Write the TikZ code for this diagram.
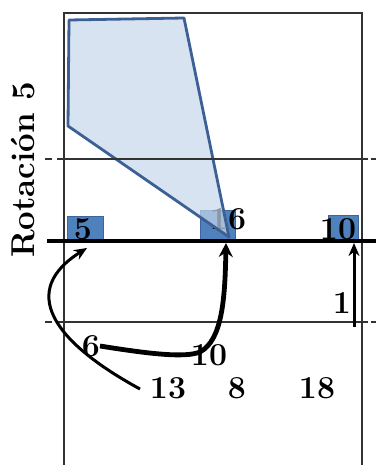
\documentclass[tikz,border=0pt]{standalone}
\usetikzlibrary{arrows.meta}
\definecolor{boxblue}{RGB}{79,129,189}
\definecolor{boxedge}{RGB}{60,100,160}
\definecolor{polyfill}{RGB}{200,215,235}
\definecolor{polyedge}{RGB}{60,95,150}
\definecolor{courtline}{RGB}{50,50,50}
\tikzset{
  pbox/.style={draw=boxedge, line width=1pt, fill=boxblue},
  num/.style={inner sep=0pt, font=\fontsize{32}{32}\selectfont\bfseries},
  cline/.style={draw=courtline, line width=2.6pt},
  netline/.style={draw=black, line width=3.8pt},
  mvthin/.style={draw=black, line width=3pt, -{Stealth[length=13pt,width=11pt]}},
  mvthick/.style={draw=black, line width=4.8pt, -{Stealth[length=14pt,width=14pt]}},
  zone/.style={draw=polyedge, line width=2.8pt, fill=polyfill, fill opacity=0.7, line join=round}
}
\begin{document}
\begin{tikzpicture}[x=1pt,y=-1pt]
\useasboundingbox (0,0) rectangle (376,465);
% player boxes
\path[pbox] (67,216) rectangle (103,241);
\path[pbox] (200,210) rectangle (235,241);
\path[pbox] (328,215) rectangle (358,241);
% labels
\node[num] (p5) at (83,229) {5};
\node[num] (p16) at (228,219) {16};
\node[num] (p10a) at (338,229) {10};
\node[num] (p1) at (342,303) {1};
\node[num] (p6) at (91,346) {6};
\node[num] (p10b) at (209,355) {10};
\node[num] (p13) at (168,388) {13};
\node[num] (p8) at (237,388) {8};
\node[num] (p18) at (317,388) {18};
% zone
\path[zone] (69,20) -- (184,18) -- (229,237) -- (68,126) -- cycle;
% court
\path[cline] (64,465) -- (64,13) -- (362,13) -- (362,465);
\path[cline] (57,159) -- (368,159);
\path[cline] (45,159) -- (52,159);
\path[cline] (371,159) -- (376,159);
\path[cline] (57,322) -- (368,322);
\path[cline] (45,322) -- (52,322);
\path[cline] (371,322) -- (376,322);
\path[netline] (47,241) -- (376,241);
% rotated title
\node[inner sep=0pt, rotate=90, font=\fontsize{33}{33}\selectfont\bfseries] (title) at (23,170) {Rotación 5};
% arrows
\coordinate (a1s) at (140,389);
\coordinate (a1e) at (87,248);
\coordinate (a2s) at (100,346);
\coordinate (a2m) at (200,352);
\coordinate (a2e) at (226,243);
\coordinate (a3s) at (354,327);
\coordinate (a3e) at (354,243);
\draw[mvthin] (a1s) .. controls (50,340) and (20,290) .. (a1e);
\draw[mvthick] (a2s) .. controls (150,354) and (185,358) .. (a2m) .. controls (222,340) and (225,300) .. (a2e);
\draw[mvthin] (a3s) -- (a3e);
\end{tikzpicture}
\end{document}
